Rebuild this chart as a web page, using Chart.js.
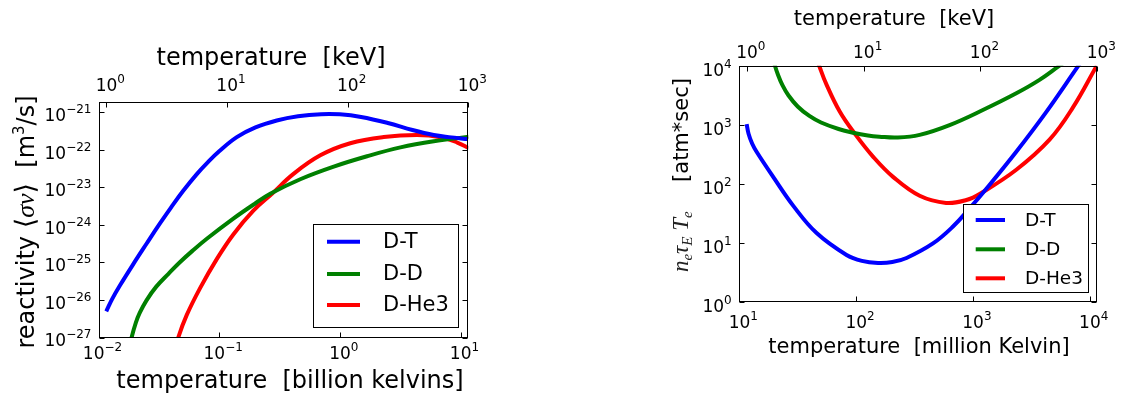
<!DOCTYPE html>
<html>
<head>
<meta charset="utf-8">
<script src="https://cdn.jsdelivr.net/npm/chart.js@4"></script>
<style>
  html, body { margin: 0; padding: 0; background: #fff; }
  canvas { position: absolute; top: 0; }
  #reactivityChart { left: 0; }
  #lawsonChart { left: 570px; }
</style>
</head>
<body>
<canvas id="reactivityChart" width="570" height="396"></canvas>
<canvas id="lawsonChart" width="569" height="396"></canvas>
<script>
// ---- values ----

// left panel: reactivity <sigma v> [m^3/s] vs temperature [billion K]
const dtTempGK = [0.0116, 0.013, 0.015, 0.02, 0.025, 0.032, 0.04, 0.05, 0.065, 0.08, 0.1, 0.14, 0.2, 0.3, 0.45, 0.7, 1.0, 1.5, 2.5, 4.0, 6.0, 8.0, 11.6];
const dtReactivity = [5.0e-27, 1.07e-26, 2.4e-26, 1.05e-25, 3.16e-25, 1.05e-24, 2.95e-24, 7.9e-24, 2.24e-23, 4.6e-23, 9.2e-23, 2.19e-22, 3.98e-22, 6.1e-22, 7.9e-22, 9.0e-22, 8.9e-22, 7.6e-22, 5.25e-22, 3.4e-22, 2.5e-22, 2.2e-22, 1.95e-22];

const ddTempGK = [0.0174, 0.0188, 0.0204, 0.022, 0.025, 0.030, 0.038, 0.047, 0.060, 0.079, 0.131, 0.20, 0.265, 0.47, 0.89, 1.68, 3.18, 6.0, 11.75];
const ddReactivity = [3.2e-28, 1.0e-27, 2.5e-27, 4.6e-27, 9.8e-27, 2.24e-26, 5.0e-26, 1.0e-25, 2.04e-25, 4.3e-25, 1.48e-24, 3.8e-24, 6.8e-24, 1.66e-23, 3.6e-23, 6.8e-23, 1.17e-22, 1.7e-22, 2.24e-22];

const dhe3TempGK = [0.0427, 0.0458, 0.0538, 0.0693, 0.0955, 0.131, 0.192, 0.274, 0.413, 0.689, 1.22, 2.31, 4.38, 6.84, 9.4, 11.75];
const dhe3Reactivity = [4.0e-28, 1.0e-27, 3.94e-27, 2.04e-26, 1.23e-25, 5.6e-25, 2.4e-24, 6.8e-24, 2.3e-23, 7.2e-23, 1.51e-22, 2.21e-22, 2.51e-22, 2.19e-22, 1.58e-22, 1.12e-22];

// right panel: n_e tau_E T_e [atm*sec] vs temperature [million K]
const dtTempMK = [11.56, 12.0, 12.9, 14.1, 19.5, 29.0, 45.9, 82.8, 112, 154, 204, 270, 455, 675, 933, 1303, 2350, 4236, 8000, 8913];
const dtTriple = [1033, 708, 479, 347, 132, 42.7, 14.8, 6.31, 5.01, 4.62, 4.79, 5.62, 9.89, 19.1, 38.5, 83.2, 351, 1641, 10000, 13490];

const ddTempMK = [19.3, 20.2, 21.4, 23.4, 26.3, 31.6, 39.8, 50.1, 70.8, 94.2, 126, 158, 224, 350, 631, 1216, 2350, 3715, 5508, 6310];
const ddTriple = [14125, 10000, 7080, 4677, 3162, 2042, 1413, 1096, 851, 736, 661, 631, 610, 676, 989, 1778, 3412, 5754, 10000, 12000];

const dhe3TempMK = [43.7, 48.3, 55.8, 72.6, 97.5, 140, 207, 350, 589, 879, 1161, 2350, 4529, 7161, 11482];
const dhe3Triple = [17780, 10000, 4786, 1660, 708, 288, 132, 63.1, 47.9, 53.7, 69.2, 174, 562, 1950, 10000];

const seriesLabels = ['D-T', 'D-D', 'D-He3'];
const seriesColors = ['#0000ff', '#008000', '#ff0000'];

// tick values
const gkTicks = [0.01, 0.1, 1, 10];
const reactivityTicks = [1e-27, 1e-26, 1e-25, 1e-24, 1e-23, 1e-22, 1e-21];
const keVTicks = [1, 10, 100, 1000];
const mkTicks = [10, 100, 1000, 10000];
const tripleTicks = [1, 10, 100, 1000, 10000];

// 1 keV = 11.6045 million kelvin
const KEV_IN_MK = 11.6045;

Chart.defaults.font.family = 'DejaVu Sans';
Chart.defaults.color = '#000';

function toPoints(xs, ys) {
  return xs.map((x, i) => ({ x: x, y: ys[i] }));
}

function makeDatasets(sets) {
  return sets.map((s, i) => ({
    label: seriesLabels[i],
    data: toPoints(s[0], s[1]),
    borderColor: seriesColors[i],
    backgroundColor: seriesColors[i],
    borderWidth: 4,
    pointRadius: 0,
    tension: 0.4,
    clip: 0,
    xAxisID: 'x',
    yAxisID: 'y'
  }));
}

function logAxis(position, min, max, ticks, size) {
  return {
    type: 'logarithmic',
    position: position,
    min: min,
    max: max,
    grid: { display: false, drawTicks: false },
    border: { display: false },
    ticks: { display: false },
    afterBuildTicks: s => { s.ticks = ticks.map(v => ({ value: v })); },
    afterFit: s => {
      if (s.isHorizontal()) s.height = size; else s.width = size;
    }
  };
}

// draw a string made of pieces with different fonts, anchored at (x, y)
function drawRich(ctx, pieces, x, y, rotate, align) {
  ctx.save();
  ctx.translate(x, y);
  if (rotate) ctx.rotate(-Math.PI / 2);
  ctx.textBaseline = 'alphabetic';
  ctx.textAlign = 'left';
  let total = 0;
  pieces.forEach(p => { ctx.font = p.font; p.w = ctx.measureText(p.text).width; total += p.w; });
  let cx = align === 'right' ? -total : -total / 2;
  pieces.forEach(p => {
    ctx.font = p.font;
    ctx.fillStyle = p.color || '#000';
    ctx.fillText(p.text, cx, p.dy || 0);
    cx += p.w;
  });
  ctx.restore();
}

function sans(size) { return size + 'px DejaVu Sans'; }
function math(size) { return 'italic ' + size + 'px Liberation Serif'; }

// "10" with a raised exponent, like the log-axis labels of the figure
function powerPieces(v, size) {
  const e = Math.round(Math.log10(v));
  return [
    { text: '10', font: sans(size) },
    { text: String(e).replace('-', '\u2212'), font: sans(Math.round(size * 0.7)), dy: -size * 0.48 }
  ];
}

const decorPlugin = {
  id: 'decor',
  afterDraw(chart, args, opts) {
    const ctx = chart.ctx;
    const a = chart.chartArea;
    const sx = chart.scales.x, sy = chart.scales.y, st = chart.scales.xTop;
    const L = Math.round(a.left) + 0.5, R = Math.round(a.right) - 0.5;
    const T = Math.round(a.top) + 0.5, B = Math.round(a.bottom) - 0.5;
    ctx.save();
    ctx.strokeStyle = '#000';
    ctx.lineWidth = 1;
    ctx.strokeRect(L, T, R - L, B - T);

    // inward tick marks on all four sides
    const len = 5;
    ctx.beginPath();
    sx.ticks.forEach(t => {
      const p = Math.round(sx.getPixelForValue(t.value)) + 0.5;
      ctx.moveTo(p, B); ctx.lineTo(p, B - len);
    });
    st.ticks.forEach(t => {
      const p = Math.round(st.getPixelForValue(t.value)) + 0.5;
      ctx.moveTo(p, T); ctx.lineTo(p, T + len);
    });
    sy.ticks.forEach(t => {
      const p = Math.round(sy.getPixelForValue(t.value)) + 0.5;
      ctx.moveTo(L, p); ctx.lineTo(L + len, p);
      ctx.moveTo(R, p); ctx.lineTo(R - len, p);
    });
    ctx.stroke();

    // tick labels
    const tk = opts.tickLabels;
    sx.ticks.forEach(t => drawRich(ctx, powerPieces(t.value, tk.size), sx.getPixelForValue(t.value) + 4, a.bottom + tk.bottom));
    st.ticks.forEach(t => drawRich(ctx, powerPieces(t.value, tk.size), st.getPixelForValue(t.value) + 4, a.top - tk.top));
    sy.ticks.forEach(t => drawRich(ctx, powerPieces(t.value, tk.size), a.left - tk.gap, sy.getPixelForValue(t.value) + tk.left, false, 'right'));

    // legend box
    const lg = opts.legend;
    ctx.fillStyle = '#fff';
    ctx.fillRect(lg.x, lg.y, lg.w, lg.h);
    ctx.strokeStyle = '#000';
    ctx.lineWidth = 1;
    ctx.strokeRect(Math.round(lg.x) + 0.5, Math.round(lg.y) + 0.5, Math.round(lg.w), Math.round(lg.h));
    chart.data.datasets.forEach((ds, i) => {
      const y = lg.rows[i];
      ctx.strokeStyle = ds.borderColor;
      ctx.lineWidth = 4;
      ctx.beginPath();
      ctx.moveTo(lg.lineX1, y); ctx.lineTo(lg.lineX2, y);
      ctx.stroke();
      ctx.fillStyle = '#000';
      ctx.font = sans(lg.font);
      ctx.textBaseline = 'middle';
      ctx.textAlign = 'left';
      ctx.fillText(ds.label, lg.textX, y + 1);
    });

    // axis titles
    opts.titles.forEach(t => drawRich(ctx, t.pieces, t.x, t.y, t.rotate));
    ctx.restore();
  }
};

// ---- left panel ----
new Chart(document.getElementById('reactivityChart'), {
  type: 'line',
  data: {
    datasets: makeDatasets([
      [dtTempGK, dtReactivity],
      [ddTempGK, ddReactivity],
      [dhe3TempGK, dhe3Reactivity]
    ])
  },
  options: {
    responsive: false,
    animation: false,
    devicePixelRatio: 1,
    layout: { padding: { left: 0, top: 0, right: 101.7, bottom: 0 } },
    plugins: {
      legend: { display: false },
      tooltip: { enabled: false },
      decor: {
        tickLabels: { size: 17, bottom: 21.8, top: 11.3, left: 8.9, gap: 7 },
        legend: { x: 312.5, y: 224, w: 145, h: 103, rows: [241.7, 274, 305], lineX1: 327, lineX2: 360, textX: 383, font: 21 },
        titles: [
          { x: 271, y: 65, pieces: [{ text: 'temperature  [keV]', font: sans(24) }] },
          { x: 290, y: 388, pieces: [{ text: 'temperature  [billion kelvins]', font: sans(24) }] },
          { x: 34, y: 222, rotate: true, pieces: [
            { text: 'reactivity ', font: sans(24) },
            { text: '⟨', font: sans(27) },
            { text: 'σv', font: math(26) },
            { text: '⟩', font: sans(27) },
            { text: '  [m', font: sans(24) },
            { text: '3', font: sans(15), dy: -10 },
            { text: '/s]', font: sans(24) }
          ] }
        ]
      }
    },
    scales: {
      x: logAxis('bottom', 0.01, KEV_IN_MK, gkTicks, 58.5),
      xTop: logAxis('top', 0.01 / (KEV_IN_MK / 1000), 1000, keVTicks, 102),
      y: logAxis('left', 1e-27, 1.9e-21, reactivityTicks, 98.5)
    }
  },
  plugins: [decorPlugin]
});

// ---- right panel ----
new Chart(document.getElementById('lawsonChart'), {
  type: 'line',
  data: {
    datasets: makeDatasets([
      [dtTempMK, dtTriple],
      [ddTempMK, ddTriple],
      [dhe3TempMK, dhe3Triple]
    ])
  },
  options: {
    responsive: false,
    animation: false,
    devicePixelRatio: 1,
    layout: { padding: { left: 0, top: 0, right: 41.7, bottom: 0 } },
    plugins: {
      legend: { display: false },
      tooltip: { enabled: false },
      decor: {
        tickLabels: { size: 17, bottom: 25.7, top: 7.4, left: 10, gap: 7.6 },
        legend: { x: 393.3, y: 204.3, w: 125, h: 88.4, rows: [220, 249.3, 278.3], lineX1: 405.7, lineX2: 435, textX: 455, font: 18.5 },
        titles: [
          { x: 324, y: 25, pieces: [{ text: 'temperature  [keV]', font: sans(21) }] },
          { x: 349, y: 353, pieces: [{ text: 'temperature  [million Kelvin]', font: sans(21) }] },
          { x: 118, y: 130, rotate: true, pieces: [{ text: '[atm*sec]', font: sans(21) }] },
          { x: 118, y: 241.7, rotate: true, pieces: [
            { text: 'n', font: math(23), color: '#222' },
            { text: 'e', font: math(15), dy: 4, color: '#222' },
            { text: 'τ', font: math(23), color: '#222' },
            { text: 'E', font: math(15), dy: 4, color: '#222' },
            { text: ' T', font: math(23), color: '#222' },
            { text: 'e', font: math(15), dy: 4, color: '#222' }
          ] }
        ]
      }
    },
    scales: {
      x: logAxis('bottom', 10, 1000 * KEV_IN_MK, mkTicks, 93.7),
      xTop: logAxis('top', 10 / KEV_IN_MK, 1000, keVTicks, 65.7),
      y: logAxis('left', 1, 1e4, tripleTicks, 169.3)
    }
  },
  plugins: [decorPlugin]
});
</script>
</body>
</html>
